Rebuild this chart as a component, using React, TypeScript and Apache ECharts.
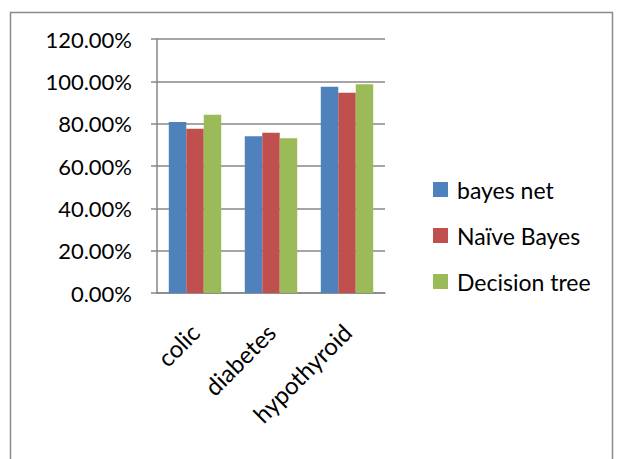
import React, { useEffect, useRef } from "react";
import * as echarts from "echarts";

const categories = ["colic", "diabetes", "hypothyroid"];
const bayesNet = [80.8, 74.0, 97.5];
const naiveBayes = [77.6, 75.7, 94.6];
const decisionTree = [84.2, 73.1, 98.6];
const seriesNames = ["bayes net", "Naïve Bayes", "Decision tree"];
const colors = ["#4F81BD", "#C0504D", "#9BBB59"];

export default function App() {
  const ref = useRef<HTMLDivElement>(null);

  useEffect(() => {
    if (!ref.current) return;
    const chart = echarts.init(ref.current, null, { renderer: "svg" });
    const axisGray = "#878787";
    const values = [bayesNet, naiveBayes, decisionTree];
    chart.setOption({
      animation: false,
      color: colors,
      graphic: [
        {
          type: "rect",
          shape: { x: 10.5, y: 12.5, width: 602, height: 460 },
          style: { fill: "none", stroke: "#8a8a8a", lineWidth: 1.5 },
          silent: true,
        },
      ],
      grid: { left: 157, right: 234, top: 39, bottom: 166 },
      legend: {
        orient: "vertical",
        left: 428,
        top: 173,
        itemWidth: 15,
        itemHeight: 15,
        itemGap: 23,
        icon: "rect",
        data: seriesNames,
        textStyle: { fontFamily: "Lato", fontSize: 23, color: "#000", padding: [0, 0, 0, 4] },
      },
      xAxis: {
        type: "category",
        data: categories,
        axisLine: { lineStyle: { color: axisGray, width: 1.5 } },
        axisTick: { length: 5, lineStyle: { color: axisGray, width: 1.5 } },
        axisLabel: {
          rotate: 45,
          fontFamily: "Lato",
          fontSize: 24,
          color: "#000",
          margin: 35,
        },
      },
      yAxis: {
        type: "value",
        min: 0,
        max: 120,
        interval: 20,
        axisLine: { show: true, lineStyle: { color: axisGray, width: 1.5 } },
        axisTick: { show: true, length: 6, lineStyle: { color: axisGray, width: 1.5 } },
        splitLine: { lineStyle: { color: axisGray, width: 1.5 } },
        axisLabel: {
          formatter: (v: number) => v.toFixed(2) + "%",
          fontFamily: "Lato",
          fontSize: 22,
          color: "#000",
          margin: 25,
        },
      },
      series: seriesNames.map((name, i) => ({
        name,
        type: "bar",
        data: values[i],
        barGap: "0%",
        barCategoryGap: "31%",
      })),
    });
    return () => chart.dispose();
  }, []);

  return (
    <div
      ref={ref}
      style={{ position: "fixed", left: 0, top: 0, width: 619, height: 459, background: "#fff" }}
    />
  );
}
